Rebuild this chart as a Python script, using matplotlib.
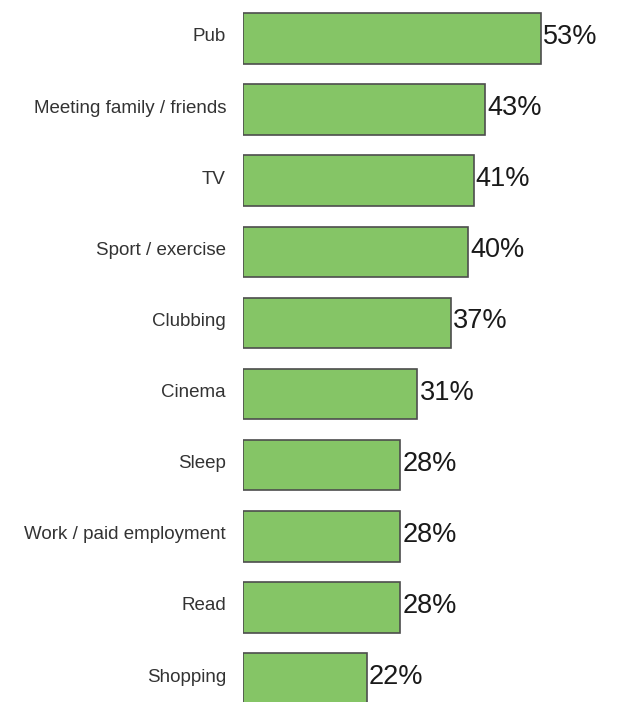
import matplotlib.pyplot as plt

plt.rcParams['font.family'] = ['Liberation Sans', 'DejaVu Sans']

activities = [
    'Pub',
    'Meeting family / friends',
    'TV',
    'Sport / exercise',
    'Clubbing',
    'Cinema',
    'Sleep',
    'Work / paid employment',
    'Read',
    'Shopping',
]
shares = [53, 43, 41, 40, 37, 31, 28, 28, 28, 22]

fig = plt.figure(figsize=(6.18, 7.02), dpi=100)
# bars start about 243 px in; the rest of the width is the value axis
ax = fig.add_axes([243 / 618, 0, 375 / 618, 1])

ypos = list(range(len(activities)))
ax.barh(ypos, shares, height=0.71, color='#85c566',
        edgecolor='#4d4d4d', linewidth=1.2)

for y, v in zip(ypos, shares):
    ax.text(v + 0.4, y - 0.02, f'{v}%', va='center', ha='left',
            fontsize=19.5, color='#1a1a1a')

# category names, right aligned a little left of the bars
for y, name in zip(ypos, activities):
    ax.text(-17 / 375, y - 0.02, name, va='center', ha='right',
            fontsize=13.5, color='#333333',
            transform=ax.get_yaxis_transform(), clip_on=False)

ax.set_xlim(0, 66.7)
ax.set_ylim(9.33, -0.54)
ax.set_xticks([])
ax.set_yticks([])
for side in ax.spines.values():
    side.set_visible(False)

fig.savefig('out.png', dpi=100)
